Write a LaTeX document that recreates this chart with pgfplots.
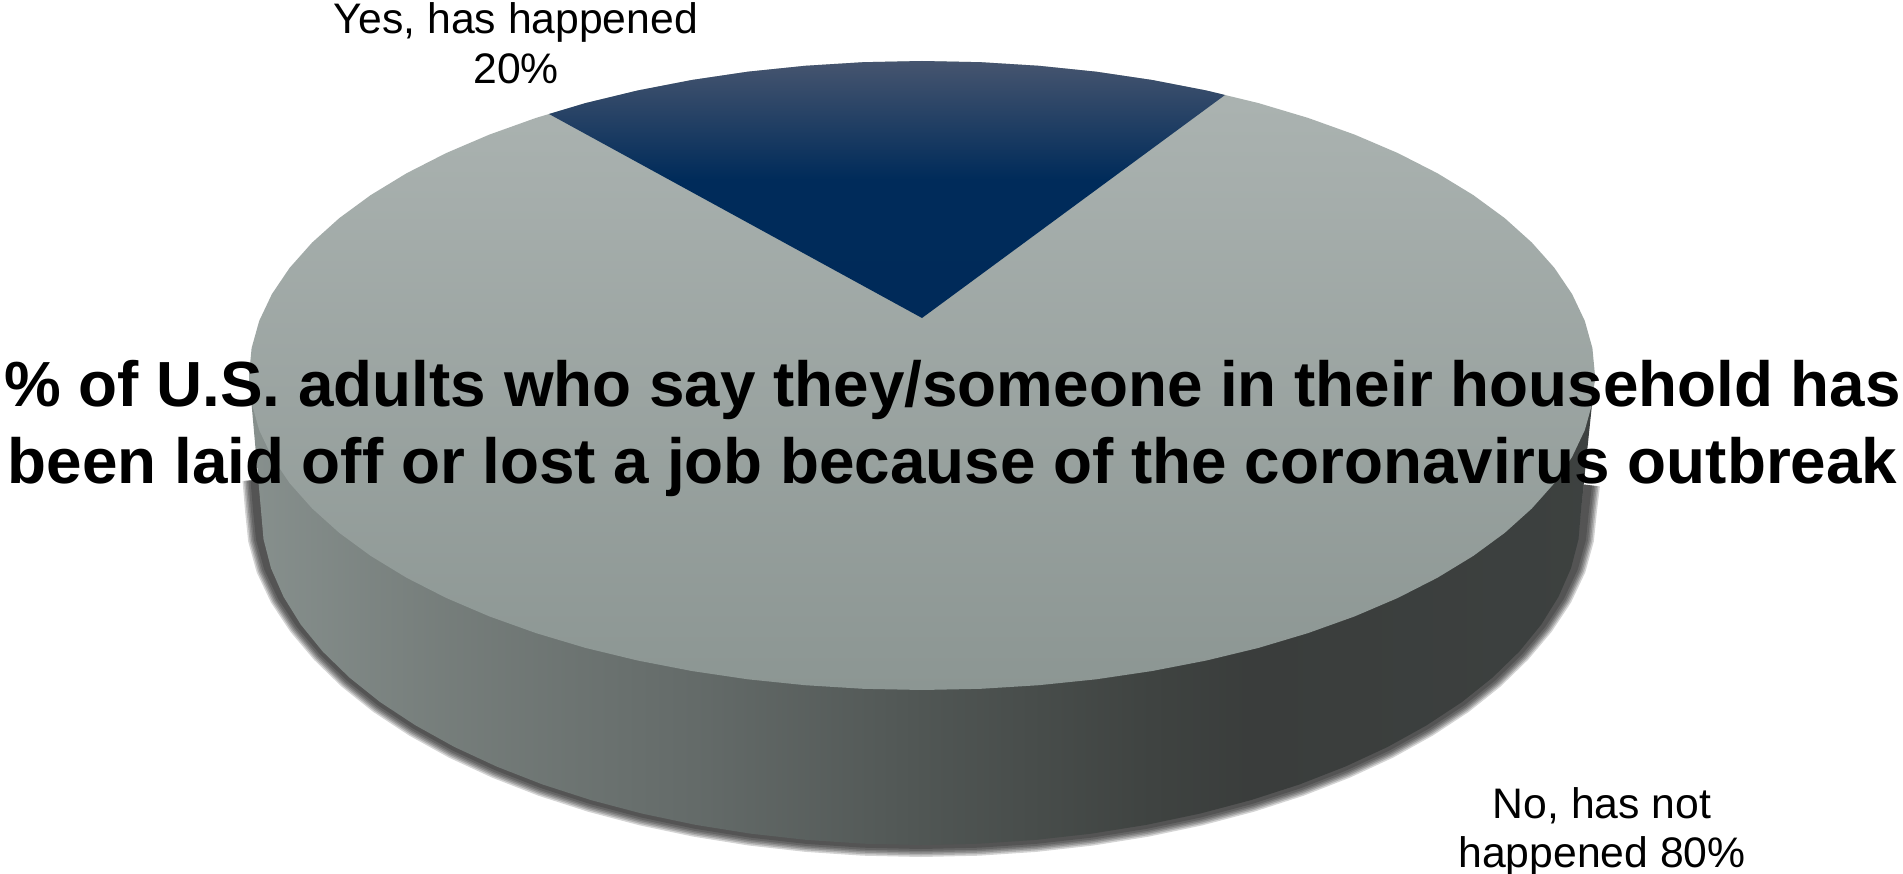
\documentclass[border=0pt]{standalone}
\usepackage{fontspec}
\setmainfont{Liberation Sans}
\usepackage{pgfplots}
\usepackage{pgfplotstable}
\pgfplotsset{compat=1.18}
% 25bp..75bp of a shading span the bounding box of the path
\pgfdeclareverticalshading{wedgeblue}{100bp}{rgb(0bp)=(0,0.165,0.349); rgb(25bp)=(0,0.165,0.349); rgb(52bp)=(0,0.169,0.353); rgb(75bp)=(0.275,0.333,0.435); rgb(100bp)=(0.275,0.333,0.435)}
\pgfdeclareverticalshading{topgrey}{100bp}{rgb(0bp)=(0.549,0.588,0.576); rgb(25bp)=(0.549,0.588,0.576); rgb(75bp)=(0.675,0.706,0.698); rgb(100bp)=(0.675,0.706,0.698)}
\pgfdeclarehorizontalshading{sidegrey}{100bp}{rgb(0bp)=(0.525,0.56,0.55); rgb(25.4bp)=(0.525,0.56,0.55); rgb(32.5bp)=(0.46,0.49,0.48); rgb(41.8bp)=(0.39,0.417,0.41); rgb(50.5bp)=(0.31,0.333,0.325); rgb(58.5bp)=(0.247,0.263,0.255); rgb(62.2bp)=(0.227,0.239,0.235); rgb(75bp)=(0.239,0.255,0.25); rgb(100bp)=(0.239,0.255,0.25)}
\pgfplotstableread{
x y
1595 375.5
1592.4 402.9
1584.8 430.1
1572.1 456.9
1554.4 483.1
1531.9 508.4
1504.8 532.8
1473.3 555.9
1437.5 577.7
1397.9 597.9
1354.6 616.4
1308.0 633.1
1258.5 647.9
1206.4 660.5
1152.2 671.0
1096.2 679.3
1038.8 685.2
980.7 688.8
922 690
863.3 688.8
805.2 685.2
747.8 679.3
691.8 671.0
637.6 660.5
585.5 647.9
536.0 633.1
489.4 616.4
446.1 597.9
406.5 577.7
370.7 555.9
339.2 532.8
312.1 508.4
289.6 483.1
271.9 456.9
259.2 430.1
251.6 402.9
249 375.5
251.6 348.1
259.2 320.9
271.9 294.1
289.6 267.9
312.1 242.6
339.2 218.2
370.7 195.1
406.5 173.3
446.1 153.1
489.4 134.6
536.0 117.9
585.5 103.1
637.6 90.5
691.8 80.0
747.8 71.7
805.2 65.8
863.3 62.2
922 61
980.7 62.2
1038.8 65.8
1096.2 71.7
1152.2 80.0
1206.4 90.5
1258.5 103.1
1308.0 117.9
1354.6 134.6
1397.9 153.1
1437.5 173.3
1473.3 195.1
1504.8 218.2
1531.9 242.6
1554.4 267.9
1572.1 294.1
1584.8 320.9
1592.4 348.1
}\topface
\pgfplotstableread{
x y
922 318
549 114
585.5 103.1
637.6 90.5
691.8 80.0
747.8 71.7
805.2 65.8
863.3 62.2
922 61
980.7 62.2
1038.8 65.8
1096.2 71.7
1152.2 80.0
1206.4 90.5
1225 95
}\wedge
\pgfplotstableread{
x y
1595 375.5
1581 510
1578.5 539.2
1571 568.2
1558.5 596.7
1541.2 624.6
1519.2 651.6
1492.6 677.5
1461.7 702.2
1426.6 725.3
1387.7 746.9
1345.2 766.6
1299.6 784.4
1251 800.1
1199.9 813.6
1146.7 824.8
1091.8 833.6
1035.6 839.9
978.6 843.7
921 845
863.4 843.7
806.4 839.9
750.2 833.6
695.3 824.8
642.1 813.6
591 800.1
542.4 784.4
496.8 766.6
454.3 746.9
415.4 725.3
380.3 702.2
349.4 677.5
322.8 651.6
300.8 624.6
283.5 596.7
271 568.2
263.5 539.2
261 510
249 375.5
}\side
\pgfplotstableread{
x y
1588 485
1585 510
1582 539.2
1574 568.2
1560.5 596.7
1542 624.6
1519.2 651.6
1492.6 677.5
1461.7 702.2
1426.6 725.3
1387.7 746.9
1345.2 766.6
1299.6 784.4
1251 800.1
1199.9 813.6
1146.7 824.8
1091.8 833.6
1035.6 839.9
978.6 843.7
921 845
863.4 843.7
806.4 839.9
750.2 833.6
695.3 824.8
642.1 813.6
591 800.1
542.4 784.4
496.8 766.6
454.3 746.9
415.4 725.3
380.3 702.2
349.4 677.5
322.8 651.6
300 624.6
281.5 596.7
268 568.2
260 539.2
257 510
254.5 480
}\rim
\begin{document}
\begin{tikzpicture}
\begin{axis}[
  name=a,
  scale only axis,
  width=1903bp, height=874bp,
  xmin=0, xmax=1903, ymin=0, ymax=874,
  y dir=reverse,
  hide axis,
  clip=false,
]
% soft shadow round the rim
\addplot[no markers, draw=black, opacity=0.17, line width=24bp] table {\rim};
\addplot[no markers, draw=black, opacity=0.17, line width=21bp] table {\rim};
\addplot[no markers, draw=black, opacity=0.17, line width=18bp] table {\rim};
\addplot[no markers, draw=black, opacity=0.17, line width=15bp] table {\rim};
\addplot[no markers, draw=black, opacity=0.17, line width=12bp] table {\rim};
\addplot[no markers, draw=black, opacity=0.17, line width=8bp] table {\rim};
% pie
\addplot[no markers, draw=none, shading=sidegrey] table {\side};
\addplot[no markers, draw=none, shading=topgrey] table {\topface};
\addplot[no markers, draw=none, shading=wedgeblue] table {\wedge};
% text
\node[anchor=base, inner sep=0pt] at (axis cs:516,34) {\fontsize{42.7bp}{50bp}\selectfont Yes, has happened};
\node[anchor=base, inner sep=0pt] at (axis cs:516,84) {\fontsize{42.7bp}{50bp}\selectfont 20\%};
\node[anchor=base, inner sep=0pt] at (axis cs:1602,818) {\fontsize{42.7bp}{50bp}\selectfont No, has not};
\node[anchor=base, inner sep=0pt] at (axis cs:1602,867) {\fontsize{42.7bp}{50bp}\selectfont happened 80\%};
\node[anchor=base, inner sep=0pt] at (axis cs:952.5,406) {\fontsize{63.8bp}{77bp}\selectfont\bfseries \% of U.S. adults who say they/someone in their household has};
\node[anchor=base, inner sep=0pt] at (axis cs:952.5,483) {\fontsize{63.8bp}{77bp}\selectfont\bfseries been laid off or lost a job because of the coronavirus outbreak};
\end{axis}
\pgfresetboundingbox
\path[use as bounding box] (a.south west) rectangle (a.north east);
\end{tikzpicture}
\end{document}
